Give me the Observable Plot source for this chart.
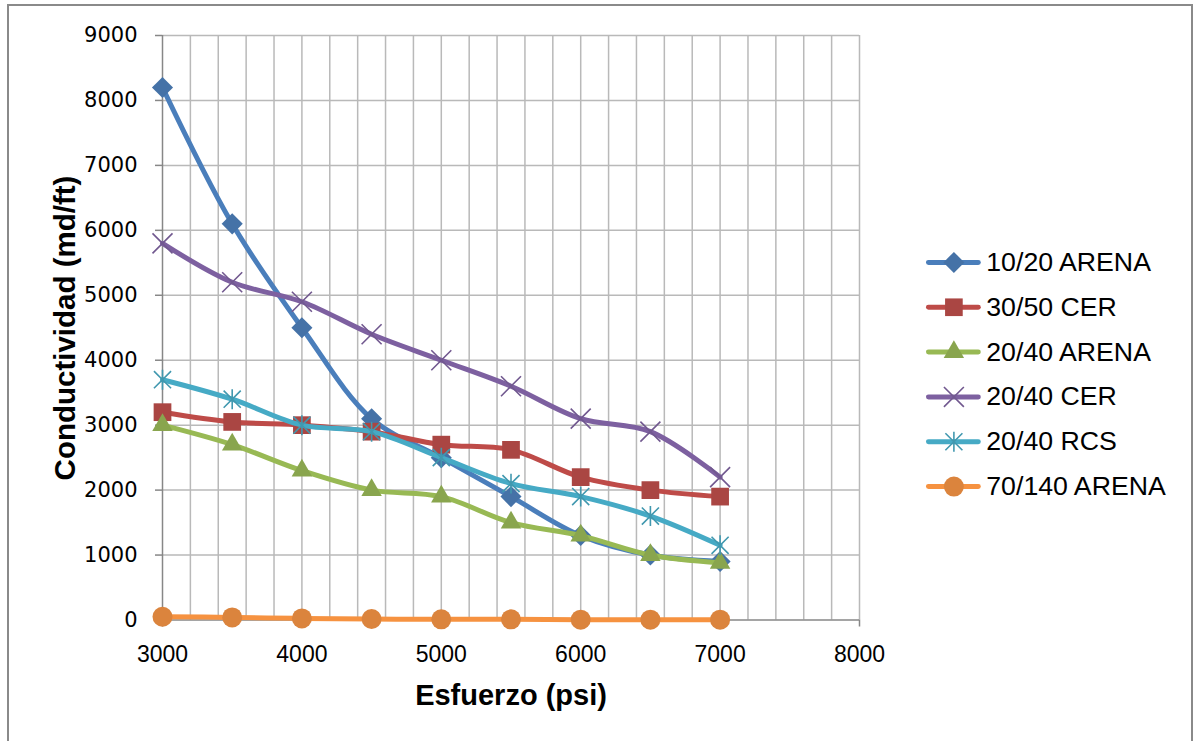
<!DOCTYPE html>
<html>
<head>
<meta charset="utf-8">
<script src="https://cdn.jsdelivr.net/npm/d3@7"></script>
<script src="https://cdn.jsdelivr.net/npm/@observablehq/plot@0.6"></script>
<style>
  html, body { margin: 0; padding: 0; background: #ffffff; }
  #wrap { position: relative; width: 1195px; height: 741px; overflow: hidden; font-family: "Liberation Sans", Arial, sans-serif; background: #fff; }
  #frame { position: absolute; left: 7px; top: 4px; width: 1186px; height: 780px; border: 2px solid #8a8a8a; box-sizing: border-box; }
  #main { position: absolute; left: 0; top: 0; }
  #legend { position: absolute; left: 926px; top: 240px; }
  .ytitle { position: absolute; left: 65px; top: 328px; transform: translate(-50%, -50%) rotate(-90deg); font-weight: bold; font-size: 29.5px; line-height: 1; white-space: nowrap; color: #000; }
  .xtitle { position: absolute; left: 511px; top: 681px; transform: translateX(-50%); font-weight: bold; font-size: 29px; line-height: 1; white-space: nowrap; color: #000; }
</style>
</head>
<body>
<div id="wrap">
  <div id="frame"></div>
  <div id="main"></div>
  <div id="legend"></div>
  <div class="ytitle">Conductividad (md/ft)</div>
  <div class="xtitle">Esfuerzo (psi)</div>
</div>
<script>
// ---- data ----
const esfuerzo = [3000, 3500, 4000, 4500, 5000, 5500, 6000, 6500, 7000];
const seriesNames = ["10/20 ARENA", "30/50 CER", "20/40 ARENA", "20/40 CER", "20/40 RCS", "70/140 ARENA"];
const arena1020  = [8200, 6100, 4500, 3100, 2500, 1900, 1300, 1000, 900];
const cer3050    = [3200, 3050, 3000, 2900, 2700, 2620, 2200, 2000, 1900];
const arena2040  = [3000, 2700, 2300, 2000, 1900, 1500, 1300, 1000, 880];
const cer2040    = [5800, 5200, 4900, 4400, 4000, 3600, 3100, 2900, 2200];
const rcs2040    = [3700, 3400, 3000, 2900, 2500, 2100, 1900, 1600, 1150];
const arena70140 = [50, 40, 25, 15, 10, 10, 5, 5, 5];
const xTicks = [3000, 4000, 5000, 6000, 7000, 8000];
const yTicks = [0, 1000, 2000, 3000, 4000, 5000, 6000, 7000, 8000, 9000];

// ---- styles ----
const lineColors   = ["#4a7ebb", "#be4b48", "#98b954", "#7d60a0", "#46aac5", "#f69240"];
const markerColors = ["#4572a7", "#aa4643", "#89a54e", "#71588f", "#4198af", "#db843d"];

const symTimes = { draw(ctx, size) { const r = Math.sqrt(size / Math.PI);
  ctx.moveTo(-r, -r); ctx.lineTo(r, r); ctx.moveTo(-r, r); ctx.lineTo(r, -r); } };
const symStar = { draw(ctx, size) { const r = Math.sqrt(size / Math.PI);
  ctx.moveTo(-r * 0.9, -r * 0.9); ctx.lineTo(r * 0.9, r * 0.9);
  ctx.moveTo(-r * 0.9, r * 0.9); ctx.lineTo(r * 0.9, -r * 0.9);
  ctx.moveTo(0, -r * 1.05); ctx.lineTo(0, r * 1.05); } };

const markerSpecs = [
  { symbol: "diamond2", r: 9.5, filled: true },
  { symbol: "square", r: 10, filled: true },
  { symbol: "triangle", r: 7.6, filled: true },
  { symbol: symTimes, r: 10, filled: false },
  { symbol: symStar, r: 9.5, filled: false },
  { symbol: "circle", r: 10, filled: true }
];

const seriesValues = [arena1020, cer3050, arena2040, cer2040, rcs2040, arena70140];
const table = seriesNames.map((name, k) =>
  esfuerzo.map((x, i) => ({ serie: name, x, y: seriesValues[k][i] })));

function dotOpts(k, extra) {
  const s = markerSpecs[k];
  return Object.assign({
    symbol: s.symbol, r: s.r,
    fill: s.filled ? markerColors[k] : "none",
    stroke: s.filled ? "none" : markerColors[k],
    strokeWidth: s.filled ? 0 : 1.6
  }, extra);
}

const gridColor = "#b9b9b9";
const axisColor = "#878787";
const plain = d => String(d);

const marks = [
  Plot.ruleX(d3.range(3200, 8001, 200), { stroke: gridColor, strokeWidth: 1.5 }),
  Plot.ruleY(yTicks.slice(1), { stroke: gridColor, strokeWidth: 1.5 }),
  Plot.ruleX([3000], { stroke: axisColor, strokeWidth: 1.5 }),
  Plot.ruleY([0], { stroke: axisColor, strokeWidth: 1.5 }),
  Plot.axisX(xTicks, { tickSize: 7, tickPadding: 19, fontSize: 23, tickFormat: plain, stroke: axisColor, strokeWidth: 1.5, label: null, fill: "#000" }),
  Plot.axisY(yTicks, { tickSize: 7, tickPadding: 18, fontSize: 21, tickFormat: plain, fontFamily: "DejaVu Sans", stroke: axisColor, strokeWidth: 1.5, label: null, fill: "#000" })
];
table.forEach((rows, k) => {
  marks.push(Plot.line(rows, { x: "x", y: "y", stroke: lineColors[k], strokeWidth: 5, curve: "catmull-rom", strokeLinejoin: "round", strokeLinecap: "round" }));
  marks.push(Plot.dot(rows, dotOpts(k, { x: "x", y: "y" })));
});

const chart = Plot.plot({
  width: 1195, height: 741,
  marginLeft: 162, marginRight: 336, marginTop: 35, marginBottom: 121.5,
  x: { domain: [3000, 8000] },
  y: { domain: [0, 9000] },
  style: { fontFamily: "'Liberation Sans', Arial, sans-serif", background: "transparent", overflow: "visible", color: "#000" },
  marks
});
document.getElementById("main").appendChild(chart);

// ---- legend ----
const legendMarks = [];
seriesNames.forEach((name, k) => {
  legendMarks.push(Plot.tickY([name], { y: d => d, stroke: lineColors[k], strokeWidth: 5, strokeLinecap: "round" }));
  legendMarks.push(Plot.dot([name], dotOpts(k, { y: d => d })));
});
legendMarks.push(Plot.axisY({ anchor: "right", tickSize: 0, tickPadding: 7.5, fontSize: 26.8, label: null, fill: "#000" }));
const legend = Plot.plot({
  width: 270, height: 270,
  marginLeft: 2.5, marginRight: 217.5, marginTop: 22, marginBottom: 23,
  y: { type: "point", domain: seriesNames, padding: 0 },
  style: { fontFamily: "'Liberation Sans', Arial, sans-serif", background: "transparent", overflow: "visible", color: "#000" },
  marks: legendMarks
});
document.getElementById("legend").appendChild(legend);
</script>
</body>
</html>
